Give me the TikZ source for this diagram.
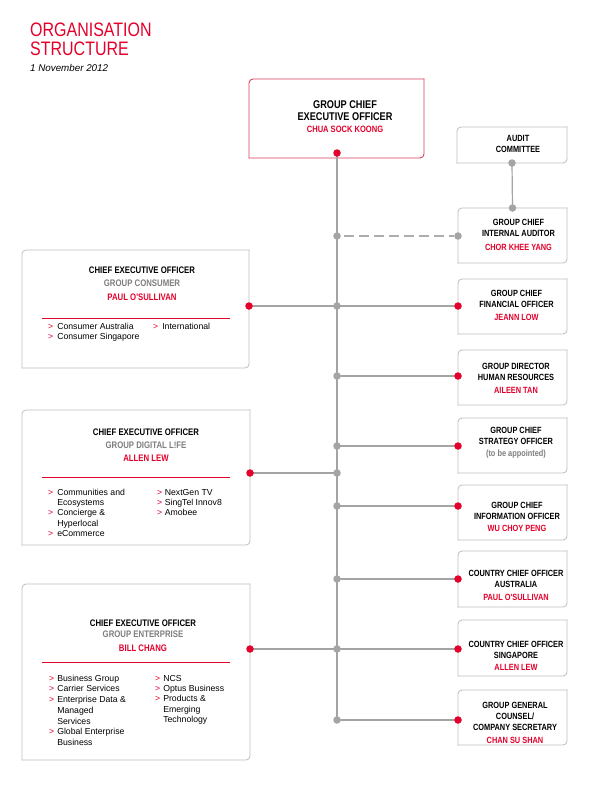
\documentclass[tikz,border=0pt]{standalone}
\usepackage{fontspec}
\setmainfont{Liberation Sans}
\newfontfamily\nar[FakeStretch=0.82]{Liberation Sans}
\definecolor{sred}{HTML}{E4002B}
\definecolor{lgray}{HTML}{A4A4A4}
\definecolor{boxgray}{HTML}{BEBEBE}
\definecolor{txtgray}{HTML}{7E7E7E}
\definecolor{ceoline}{HTML}{D9405E}
\newcommand\stack[1]{\begin{tabular}[t]{@{}c@{}}#1\end{tabular}}
\newcommand\rd[1]{\textcolor{sred}{#1}}
\newcommand\gy[1]{\textcolor{txtgray}{#1}}
\newcommand\bl{\textcolor{sred}{>}}
\newcommand\leafborder[2][boxline]{%
  \draw[#1,rounded corners=4pt] (#2.south west) -- (#2.north west) -- (#2.north east);
  \draw[#1,rounded corners=4pt] (#2.north east) -- (#2.south east) -- (#2.south west);}
\tikzset{
  boxnode/.style={inner sep=0pt, outer sep=0pt},
  rbox/.style={boxnode, minimum width=109pt, minimum height=55pt},
  boxline/.style={draw=boxgray, line width=0.8pt, line cap=rect},
  ceoborder/.style={draw=ceoline, line width=0.9pt, line cap=rect},
  conn/.style={draw=lgray, line width=1.2pt},
  dashconn/.style={draw=lgray!90, line width=2.6pt, dash pattern=on 10pt off 5pt},
  rdot/.style={circle, fill=sred, inner sep=0pt, minimum size=7.5pt},
  gdot/.style={circle, fill=lgray, inner sep=0pt, minimum size=7.5pt},
  rtext/.style={inner sep=0pt, anchor=base, font=\nar\bfseries\fontsize{9}{11}\selectfont},
  ltext/.style={inner sep=0pt, anchor=base, font=\nar\bfseries\fontsize{9.5}{13.5}\selectfont},
  bullets/.style={inner sep=0pt, anchor=base west, font=\fontsize{8.7}{10.6}\selectfont},
  redrule/.style={draw=sred, line width=0.8pt},
  titletext/.style={inner sep=0pt, anchor=base west, text=sred, font=\nar\fontsize{19.5}{20}\selectfont}
}
\begin{document}
\begin{tikzpicture}[x=1pt,y=-1pt]
\useasboundingbox[fill=white] (0,0) rectangle (594,798);

% title
\node[titletext] (t1) at (30,36) {ORGANISATION};
\node[titletext] (t2) at (30,55.5) {STRUCTURE};
\node[inner sep=0pt, anchor=base west, font=\itshape\fontsize{9.8}{11}\selectfont] (t3) at (30,71.5) {1 November 2012};

% boxes
\node[boxnode, minimum width=175pt, minimum height=79pt] (ceo) at (336.5,118.5) {};
\node[boxnode, minimum width=110pt, minimum height=36pt] (audit) at (512,145) {};
\node[rbox] (ia) at (512.5,235.5) {};
\node[rbox] (cfo) at (512.5,306.5) {};
\node[rbox] (hr) at (512.5,377.5) {};
\node[rbox] (cso) at (512.5,445.5) {};
\node[rbox] (cio) at (512.5,512.5) {};
\node[rbox, minimum height=56pt] (au) at (512.5,579) {};
\node[rbox, minimum height=56pt] (sg) at (512.5,648) {};
\node[rbox] (gc) at (512.5,717.5) {};
\node[boxnode, minimum width=227pt, minimum height=118pt] (cons) at (135.5,309) {};
\node[boxnode, minimum width=228pt, minimum height=135pt] (dl) at (136,477.5) {};
\node[boxnode, minimum width=228pt, minimum height=176pt] (ent) at (136,672) {};

\leafborder[ceoborder]{ceo}
\foreach \b in {audit,ia,cfo,hr,cso,cio,au,sg,gc,cons,dl,ent}{\leafborder{\b}}

% junction coordinates on the spine
\coordinate (jtop) at (337,153);
\coordinate (jia) at (337,236);
\coordinate (jcfo) at (337,306);
\coordinate (jhr) at (337,376);
\coordinate (jcso) at (337,446);
\coordinate (jdl) at (337,473);
\coordinate (jcio) at (337,506);
\coordinate (jau) at (337,579);
\coordinate (jsg) at (337,649);
\coordinate (jgc) at (337,720);

% connectors
\draw[conn] (jtop) -- (jgc);
\draw[conn] (audit.south) -- (ia.north);
\draw[dashconn] ([xshift=7pt]jia) -- ([xshift=-4pt]jia -| ia.west);
\foreach \j/\b in {jcfo/cfo,jhr/hr,jcso/cso,jcio/cio,jau/au,jsg/sg,jgc/gc}{
  \draw[conn] (\j) -- (\j -| \b.west);}
\draw[conn] (jcfo -| cons.east) -- (jcfo);
\draw[conn] (jdl -| dl.east) -- (jdl);
\draw[conn] (jsg -| ent.east) -- (jsg);

% dots
\node[rdot] (dceo) at (jtop) {};
\foreach \j in {jia,jcfo,jhr,jcso,jdl,jcio,jau,jsg,jgc}{\node[gdot] (d\j) at (\j) {};}
\foreach \j/\b in {jcfo/cfo,jhr/hr,jcso/cso,jcio/cio,jau/au,jsg/sg,jgc/gc}{
  \node[rdot] (e\b) at (\j -| \b.west) {};}
\node[gdot] (eia) at (jia -| ia.west) {};
\node[gdot] (eaudit) at (audit.south) {};
\node[gdot] (tia) at (ia.north) {};
\node[rdot] (econs) at (jcfo -| cons.east) {};
\node[rdot] (edl) at (jdl -| dl.east) {};
\node[rdot] (eent) at (jsg -| ent.east) {};

% CEO text
\node[inner sep=0pt, anchor=base, font=\nar\bfseries\fontsize{11.2}{12}\selectfont] (tceo) at (345,108)
  {\stack{GROUP CHIEF\\EXECUTIVE OFFICER\\[0.6pt]\fontsize{9.2}{12}\selectfont\rd{CHUA SOCK KOONG}}};

% right texts
\node[rtext] (taudit) at (518,141) {\stack{AUDIT\\COMMITTEE}};
\node[rtext] (tia2) at (518.5,225.2) {\stack{GROUP CHIEF\\INTERNAL AUDITOR\\[3pt]\rd{CHOR KHEE YANG}}};
\node[rtext] (tcfo) at (516.5,296.2) {\stack{GROUP CHIEF\\FINANCIAL OFFICER\\[2pt]\rd{JEANN LOW}}};
\node[rtext] (thr) at (516,369.2) {\stack{GROUP DIRECTOR\\HUMAN RESOURCES\\[2pt]\rd{AILEEN TAN}}};
\node[rtext] (tcso) at (516,433.2) {\stack{GROUP CHIEF\\STRATEGY OFFICER\\[1pt]\gy{(to be appointed)}}};
\node[rtext] (tcio) at (517,508.2) {\stack{GROUP CHIEF\\INFORMATION OFFICER\\[1pt]\rd{WU CHOY PENG}}};
\node[rtext] (tau) at (516,576.2) {\stack{COUNTRY CHIEF OFFICER\\AUSTRALIA\\[2pt]\rd{PAUL O'SULLIVAN}}};
\node[rtext] (tsg) at (516,647.2) {\stack{COUNTRY CHIEF OFFICER\\SINGAPORE\\[1pt]\rd{ALLEN LEW}}};
\node[rtext] (tgc) at (515,708.2) {\stack{GROUP GENERAL\\COUNSEL/\\COMPANY SECRETARY\\[2pt]\rd{CHAN SU SHAN}}};

% left box headings
\node[ltext] (hcons) at (142,273.4) {\stack{CHIEF EXECUTIVE OFFICER\\\gy{GROUP CONSUMER}\\\rd{PAUL O'SULLIVAN}}};
\node[ltext, font=\nar\bfseries\fontsize{9.5}{13}\selectfont] (hdl) at (146,435.4) {\stack{CHIEF EXECUTIVE OFFICER\\\gy{GROUP DIGITAL L!FE}\\\rd{ALLEN LEW}}};
\node[ltext, font=\nar\bfseries\fontsize{9.5}{11.5}\selectfont] (hent) at (143,626.4) {\stack{CHIEF EXECUTIVE OFFICER\\\gy{GROUP ENTERPRISE}\\[2.5pt]\rd{BILL CHANG}}};

\draw[redrule] (42,318) -- (230,318);
\draw[redrule] (42,477) -- (230,477);
\draw[redrule] (42,662) -- (230,662);

% bullet lists
\node[bullets] (bc1) at (48,329.2) {\begin{tabular}[t]{@{}l@{\hspace{4pt}}l@{}}\bl & Consumer Australia\\ \bl & Consumer Singapore\end{tabular}};
\node[bullets] (bc2) at (153,329.2) {\begin{tabular}[t]{@{}l@{\hspace{4pt}}l@{}}\bl & International\end{tabular}};

\node[bullets, font=\fontsize{8.7}{10.3}\selectfont] (bd1) at (48,495.2) {\begin{tabular}[t]{@{}l@{\hspace{4pt}}l@{}}\bl & Communities and\\ & Ecosystems\\ \bl & Concierge \&\\ & Hyperlocal\\ \bl & eCommerce\end{tabular}};
\node[bullets, font=\fontsize{8.7}{10.3}\selectfont] (bd2) at (157,495.2) {\begin{tabular}[t]{@{}l@{\hspace{2.5pt}}l@{}}\bl & NextGen TV\\ \bl & SingTel Innov8\\ \bl & Amobee\end{tabular}};

\node[bullets, font=\fontsize{8.7}{10.7}\selectfont] (be1) at (49,681.2) {\begin{tabular}[t]{@{}l@{\hspace{3pt}}l@{}}\bl & Business Group\\ \bl & Carrier Services\\ \bl & Enterprise Data \&\\ & Managed\\ & Services\\ \bl & Global Enterprise\\ & Business\end{tabular}};
\node[bullets, font=\fontsize{8.7}{10.3}\selectfont] (be2) at (155,681.2) {\begin{tabular}[t]{@{}l@{\hspace{3pt}}l@{}}\bl & NCS\\ \bl & Optus Business\\ \bl & Products \&\\ & Emerging\\ & Technology\end{tabular}};
\end{tikzpicture}
\end{document}
